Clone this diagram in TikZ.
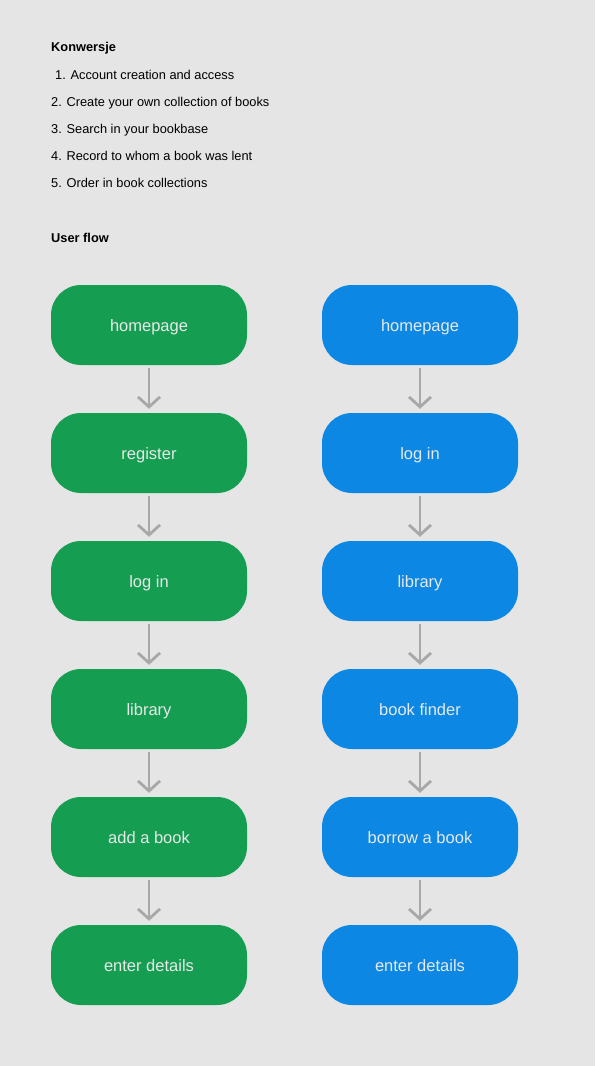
\documentclass[tikz,border=0pt]{standalone}
\usepackage{fontspec}
\setmainfont{Liberation Sans}
\usetikzlibrary{arrows.meta}
\definecolor{pagegray}{HTML}{E5E5E5}
\definecolor{flowgreen}{HTML}{159E52}
\definecolor{flowblue}{HTML}{0C88E4}
\definecolor{arrowgray}{HTML}{A8A8A8}
\definecolor{labelgray}{HTML}{E8E8E8}
\tikzset{
  stepgreen/.style={fill=flowgreen,rounded corners=30pt,minimum width=196pt,minimum height=80pt,
    text=labelgray,font=\fontsize{16.5}{19}\selectfont,text height=13pt,text depth=1pt,inner sep=0pt},
  stepblue/.style={stepgreen,fill=flowblue},
  flowarrow/.style={arrowgray,line width=2.8pt,-{Straight Barb[length=10pt,width=22pt,line width=2.8pt]}},
  listtext/.style={anchor=base west,inner sep=0pt,font=\fontsize{12.8}{15}\selectfont,text=black},
}
\begin{document}
\begin{tikzpicture}[x=1pt,y=-1pt]
	\fill[pagegray] (0,0) rectangle (595,1066);
	\useasboundingbox (0,0) rectangle (595,1066);
	% goals
	\node[listtext,font=\fontsize{12.8}{15}\selectfont\bfseries] (goals) at (51,51.5) {Konwersje};
	\node[listtext] (goal1) at (55,79.5) {1. Account creation and access};
	\node[listtext] (goal2) at (51,106.5) {2. Create your own collection of books};
	\node[listtext] (goal3) at (51,133.5) {3. Search in your bookbase};
	\node[listtext] (goal4) at (51,160.5) {4. Record to whom a book was lent};
	\node[listtext] (goal5) at (51,187.5) {5. Order in book collections};
	\node[listtext,font=\fontsize{12.8}{15}\selectfont\bfseries] (flowtitle) at (51,242.5) {User flow};
	% first flow
	\node[stepgreen] (g1) at (149,325) {homepage};
	\node[stepgreen] (g2) at (149,453) {register};
	\node[stepgreen] (g3) at (149,581) {log in};
	\node[stepgreen] (g4) at (149,709) {library};
	\node[stepgreen] (g5) at (149,837) {add a book};
	\node[stepgreen] (g6) at (149,965) {enter details};
	% second flow
	\node[stepblue] (b1) at (420,325) {homepage};
	\node[stepblue] (b2) at (420,453) {log in};
	\node[stepblue] (b3) at (420,581) {library};
	\node[stepblue] (b4) at (420,709) {book finder};
	\node[stepblue] (b5) at (420,837) {borrow a book};
	\node[stepblue] (b6) at (420,965) {enter details};
	\draw[flowarrow] ([yshift=-3pt]g1.south) to ([yshift=4pt]g2.north);
	\draw[flowarrow] ([yshift=-3pt]g2.south) to ([yshift=4pt]g3.north);
	\draw[flowarrow] ([yshift=-3pt]g3.south) to ([yshift=4pt]g4.north);
	\draw[flowarrow] ([yshift=-3pt]g4.south) to ([yshift=4pt]g5.north);
	\draw[flowarrow] ([yshift=-3pt]g5.south) to ([yshift=4pt]g6.north);
	\draw[flowarrow] ([yshift=-3pt]b1.south) to ([yshift=4pt]b2.north);
	\draw[flowarrow] ([yshift=-3pt]b2.south) to ([yshift=4pt]b3.north);
	\draw[flowarrow] ([yshift=-3pt]b3.south) to ([yshift=4pt]b4.north);
	\draw[flowarrow] ([yshift=-3pt]b4.south) to ([yshift=4pt]b5.north);
	\draw[flowarrow] ([yshift=-3pt]b5.south) to ([yshift=4pt]b6.north);
\end{tikzpicture}
\end{document}
